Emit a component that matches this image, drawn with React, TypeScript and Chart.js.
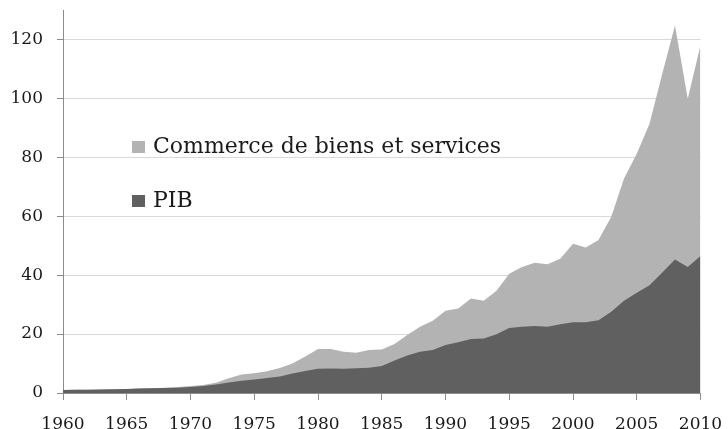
import { useEffect, useRef } from "react";
import { Chart, registerables } from "chart.js";

Chart.register(...registerables);

const years = [
  1960, 1961, 1962, 1963, 1964, 1965, 1966, 1967, 1968, 1969,
  1970, 1971, 1972, 1973, 1974, 1975, 1976, 1977, 1978, 1979,
  1980, 1981, 1982, 1983, 1984, 1985, 1986, 1987, 1988, 1989,
  1990, 1991, 1992, 1993, 1994, 1995, 1996, 1997, 1998, 1999,
  2000, 2001, 2002, 2003, 2004, 2005, 2006, 2007, 2008, 2009, 2010,
];

const pib = [
  1.0, 1.1, 1.1, 1.2, 1.3, 1.4, 1.5, 1.6, 1.7, 1.8,
  2.0, 2.4, 2.9, 3.6, 4.2, 4.6, 5.1, 5.6, 6.6, 7.5,
  8.2, 8.3, 8.2, 8.4, 8.6, 9.2, 11.0, 12.7, 14.0, 14.6,
  16.3, 17.2, 18.3, 18.5, 19.9, 22.1, 22.5, 22.7, 22.5, 23.3,
  24.0, 24.0, 24.7, 27.6, 31.3, 34.0, 36.6, 40.9, 45.3, 42.8, 46.5,
];

const commerce = [
  1.0, 1.1, 1.1, 1.2, 1.3, 1.4, 1.5, 1.6, 1.8, 2.0,
  2.4, 2.7, 3.5, 5.0, 6.3, 6.7, 7.4, 8.5, 10.0, 12.4,
  14.9, 14.9, 14.0, 13.7, 14.6, 14.8, 16.6, 19.7, 22.5, 24.5,
  27.9, 28.7, 32.1, 31.3, 34.7, 40.5, 42.8, 44.2, 43.7, 45.6,
  50.7, 49.4, 51.9, 59.8, 72.8, 81.2, 91.4, 108.4, 124.7, 99.9, 118.0,
];

const xTicks = [1960, 1965, 1970, 1975, 1980, 1985, 1990, 1995, 2000, 2005, 2010];
const yTicks = [0, 20, 40, 60, 80, 100, 120];

const labelPib = "PIB";
const labelCommerce = "Commerce de biens et services";

const FONT = "'DejaVu Serif', 'Liberation Serif', serif";

const legendPlugin = {
  id: "insideLegend",
  afterDatasetsDraw(chart: any) {
    const ctx = chart.ctx;
    const items = [
      { ds: chart.data.datasets[1], y: 153 },
      { ds: chart.data.datasets[0], y: 207 },
    ];
    ctx.save();
    ctx.font = `22px ${FONT}`;
    ctx.textBaseline = "alphabetic";
    ctx.textAlign = "left";
    for (const it of items) {
      ctx.fillStyle = it.ds.backgroundColor;
      ctx.fillRect(132, it.y - 12, 13, 12);
      ctx.fillStyle = "#1a1a1a";
      ctx.fillText(it.ds.label, 153, it.y);
    }
    ctx.restore();
  },
};

const noPad = (s: any) => {
  s.paddingTop = 0;
  s.paddingBottom = 0;
  s.paddingLeft = 0;
  s.paddingRight = 0;
};

export default function App() {
  const ref = useRef<HTMLCanvasElement | null>(null);

  useEffect(() => {
    const canvas = ref.current;
    if (!canvas) return;
    const chart = new Chart(canvas, {
      type: "line",
      data: {
        datasets: [
          {
            label: labelPib,
            data: years.map((x, i) => ({ x, y: pib[i] })),
            fill: "origin",
            backgroundColor: "#606060",
            borderColor: "#606060",
            borderWidth: 0,
            pointRadius: 0,
            tension: 0,
          },
          {
            label: labelCommerce,
            data: years.map((x, i) => ({ x, y: commerce[i] })),
            fill: "origin",
            backgroundColor: "#b3b3b3",
            borderColor: "#b3b3b3",
            borderWidth: 0,
            pointRadius: 0,
            tension: 0,
          },
        ],
      },
      options: {
        animation: false,
        responsive: false,
        devicePixelRatio: 1,
        layout: { padding: { top: 10, right: 27.5, left: 0, bottom: 0 } },
        plugins: {
          legend: { display: false },
          tooltip: { enabled: false },
        },
        scales: {
          x: {
            type: "linear",
            min: 1960,
            max: 2010,
            afterBuildTicks: (s: any) => {
              s.ticks = xTicks.map((v) => ({ value: v }));
            },
            afterFit: (s: any) => {
              s.height = 36;
              noPad(s);
            },
            ticks: {
              autoSkip: false,
              maxRotation: 0,
              padding: 14,
              color: "#1a1a1a",
              font: { family: FONT, size: 17 },
              callback: (v: any) => String(v),
            },
            grid: {
              drawOnChartArea: false,
              drawTicks: true,
              tickLength: 7,
              color: "#8c8c8c",
            },
            border: { color: "#8c8c8c", width: 1 },
          },
          y: {
            min: 0,
            max: 130,
            afterBuildTicks: (s: any) => {
              s.ticks = yTicks.map((v) => ({ value: v }));
            },
            afterFit: (s: any) => {
              s.width = 63;
              noPad(s);
            },
            ticks: {
              padding: 14,
              color: "#1a1a1a",
              font: { family: FONT, size: 17 },
            },
            grid: {
              color: "#d9d9d9",
              tickColor: "#8c8c8c",
              tickLength: 6,
            },
            border: { color: "#8c8c8c", width: 1 },
          },
        },
      },
      plugins: [legendPlugin],
    } as any);
    return () => chart.destroy();
  }, []);

  return (
    <div style={{ position: "fixed", left: 0, top: 0, width: 728, height: 429, background: "#fff" }}>
      <canvas ref={ref} width={728} height={429} style={{ display: "block" }} />
    </div>
  );
}
